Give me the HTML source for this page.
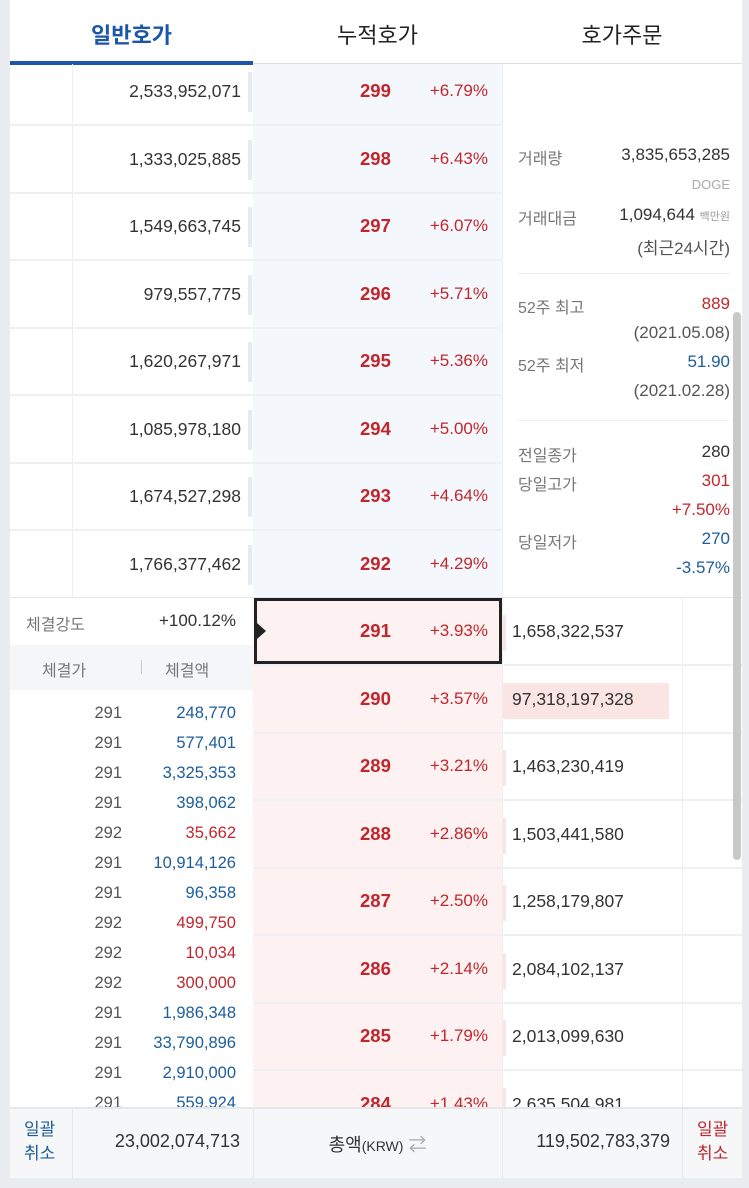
<!DOCTYPE html><html><head><meta charset="utf-8"><style>
*{margin:0;padding:0;box-sizing:border-box}
body{width:749px;height:1188px;background:#e9ecf0;font-family:"Liberation Sans","Noto Sans CJK KR",sans-serif;position:relative;overflow:hidden;color:#333}
.p{position:absolute;left:10px;top:0;width:732px;height:1178px;background:#fff;overflow:hidden}
.a{position:absolute;white-space:nowrap}
.r{text-align:right}
.red{color:#c0272d}.blue{color:#1d5d9b}.gray{color:#777}
.n{font-size:17px}
.b{font-weight:bold}
</style></head><body><div class="p">
<div class="a b" style="left:0;width:243px;top:18px;text-align:center;font-size:22px;color:#1c56a8">일반호가</div>
<div class="a" style="left:243px;width:249px;top:18px;text-align:center;font-size:22px;color:#222">누적호가</div>
<div class="a" style="left:492px;width:240px;top:18px;text-align:center;font-size:22px;color:#222">호가주문</div>
<div class="a" style="left:0;top:63px;width:732px;height:1px;background:#dde1e6"></div>
<div class="a" style="left:0;top:61px;width:243px;height:4px;background:#1c56a8"></div>
<div class="a" style="left:243px;top:64px;width:249px;height:534px;background:#f4f8fd"></div>
<div class="a" style="left:62px;top:64px;width:1px;height:534px;background:#eceef1"></div>
<div class="a" style="left:492px;top:64px;width:1px;height:534px;background:#eceef1"></div>
<div class="a" style="left:243px;top:598px;width:249px;height:510px;background:#fdf1f1"></div>
<div class="a" style="left:492px;top:598px;width:1px;height:510px;background:#eceef1"></div>
<div class="a" style="left:672px;top:598px;width:1px;height:510px;background:#eceef1"></div>
<div class="a" style="left:0;top:597px;width:732px;height:1px;background:#e3e6ea"></div>
<div id="rows"></div>
<div class="a" style="left:244px;top:598px;width:248px;height:66px;border:3px solid #222"></div>
<div class="a" style="left:247px;top:623px;width:0;height:0;border-top:8px solid transparent;border-bottom:8px solid transparent;border-left:9px solid #222"></div>
<div class="a gray" style="left:508px;top:145px;font-size:16px">거래량</div>
<div class="a r n" style="right:12px;top:145px">3,835,653,285</div>
<div class="a r" style="right:12px;top:177px;font-size:13px;color:#aaa">DOGE</div>
<div class="a gray" style="left:508px;top:205px;font-size:16px">거래대금</div>
<div class="a r n" style="right:12px;top:205px">1,094,644 <span style="font-size:11px;color:#999">백만원</span></div>
<div class="a r n" style="right:12px;top:234px;color:#555">(최근24시간)</div>
<div class="a" style="left:508px;top:273px;width:212px;height:1px;background:#eceef1"></div>
<div class="a gray" style="left:508px;top:294px;font-size:16px">52주 최고</div>
<div class="a r n red" style="right:12px;top:294px">889</div>
<div class="a r n" style="right:12px;top:323px;color:#555">(2021.05.08)</div>
<div class="a gray" style="left:508px;top:352px;font-size:16px">52주 최저</div>
<div class="a r n blue" style="right:12px;top:352px">51.90</div>
<div class="a r n" style="right:12px;top:381px;color:#555">(2021.02.28)</div>
<div class="a" style="left:508px;top:420px;width:212px;height:1px;background:#eceef1"></div>
<div class="a gray" style="left:508px;top:442px;font-size:16px">전일종가</div>
<div class="a r n" style="right:12px;top:442px">280</div>
<div class="a gray" style="left:508px;top:471px;font-size:16px">당일고가</div>
<div class="a r n red" style="right:12px;top:471px">301</div>
<div class="a r n red" style="right:12px;top:500px">+7.50%</div>
<div class="a gray" style="left:508px;top:529px;font-size:16px">당일저가</div>
<div class="a r n blue" style="right:12px;top:529px">270</div>
<div class="a r n blue" style="right:12px;top:558px">-3.57%</div>
<div class="a gray" style="left:16px;top:611px;font-size:16px">체결강도</div>
<div class="a r n" style="left:120px;width:106px;top:611px">+100.12%</div>
<div class="a" style="left:0;top:645px;width:243px;height:45px;background:#f5f6f8"></div>
<div class="a gray" style="left:32px;top:657px;font-size:16px">체결가</div>
<div class="a" style="left:131px;top:660px;width:1px;height:14px;background:#ccc"></div>
<div class="a gray" style="left:155px;top:657px;font-size:16px">체결액</div>
<div id="trades"></div>
<div class="a" style="left:723px;top:312px;width:8px;height:548px;background:#c8c8c8;border-radius:4px"></div>
<div class="a" style="left:0;top:1107px;width:732px;height:71px;background:#f6f7f9;border-top:2px solid #e3e6ea"></div>
<div class="a" style="left:62px;top:1108px;width:1px;height:70px;background:#e6e8eb"></div>
<div class="a" style="left:243px;top:1108px;width:1px;height:70px;background:#e6e8eb"></div>
<div class="a" style="left:492px;top:1108px;width:1px;height:70px;background:#e6e8eb"></div>
<div class="a" style="left:672px;top:1108px;width:1px;height:70px;background:#e6e8eb"></div>
<div class="a blue" style="left:14px;top:1118px;font-size:17px;line-height:24px">일괄<br>취소</div>
<div class="a r n" style="left:66px;width:164px;top:1131px;font-size:18px">23,002,074,713</div>
<div class="a" style="left:243px;width:249px;top:1131px;text-align:center;font-size:18px">총액<span style="font-size:14px">(KRW)</span> <span style="color:#aaa">⇄</span></div>
<div class="a r n" style="left:496px;width:164px;top:1131px;font-size:18px">119,502,783,379</div>
<div class="a red" style="left:687px;top:1118px;font-size:17px;line-height:24px">일괄<br>취소</div>
</div>
<script>
var asks=[["2,533,952,071",299,"+6.79%"],["1,333,025,885",298,"+6.43%"],["1,549,663,745",297,"+6.07%"],["979,557,775",296,"+5.71%"],["1,620,267,971",295,"+5.36%"],["1,085,978,180",294,"+5.00%"],["1,674,527,298",293,"+4.64%"],["1,766,377,462",292,"+4.29%"]];
var bids=[[291,"+3.93%","1,658,322,537"],[290,"+3.57%","97,318,197,328"],[289,"+3.21%","1,463,230,419"],[288,"+2.86%","1,503,441,580"],[287,"+2.50%","1,258,179,807"],[286,"+2.14%","2,084,102,137"],[285,"+1.79%","2,013,099,630"],[284,"+1.43%","2,635,504,981"]];
var h="";
asks.forEach(function(a,i){var c=92+67.5*i;
h+='<div class="a r n" style="left:66px;width:165px;top:'+(c-11)+'px;font-size:17.5px">'+a[0]+'</div>';
h+='<div class="a" style="left:238px;top:'+(c-20)+'px;width:4px;height:40px;background:#e6ebf1"></div>';
h+='<div class="a b red" style="left:350px;top:'+(c-12)+'px;font-size:18.5px">'+a[1]+'</div>';
h+='<div class="a r n red" style="left:400px;width:78px;top:'+(c-11)+'px">'+a[2]+'</div>';
if(i<7)h+='<div class="a" style="left:0;top:'+(c+32)+'px;width:492px;height:2px;background:#eef0f3"></div>';});
bids.forEach(function(b,i){var c=632+67.5*i;
h+='<div class="a b red" style="left:350px;top:'+(c-12)+'px;font-size:18.5px">'+b[0]+'</div>';
h+='<div class="a r n red" style="left:400px;width:78px;top:'+(c-11)+'px">'+b[1]+'</div>';
var w=(i==1)?166:3;
h+='<div class="a" style="left:493px;top:'+(c-17)+'px;width:'+w+'px;height:36px;background:#fbe4e4"></div>';
h+='<div class="a n" style="left:502px;top:'+(c-11)+'px;font-size:17.5px">'+b[2]+'</div>';
if(i<7)h+='<div class="a" style="left:243px;top:'+(c+32)+'px;width:489px;height:2px;background:#eef0f3"></div>';});
document.getElementById('rows').outerHTML=h;
var t=[[291,"248,770","blue"],[291,"577,401","blue"],[291,"3,325,353","blue"],[291,"398,062","blue"],[292,"35,662","red"],[291,"10,914,126","blue"],[291,"96,358","blue"],[292,"499,750","red"],[292,"10,034","red"],[292,"300,000","red"],[291,"1,986,348","blue"],[291,"33,790,896","blue"],[291,"2,910,000","blue"],[291,"559,924","blue"]];
var g="";t.forEach(function(x,i){var y=704+30*i;
g+='<div class="a r" style="left:60px;width:52px;top:'+y+'px;font-size:16.5px;color:#555">'+x[0]+'</div>';
g+='<div class="a r '+x[2]+'" style="left:110px;width:116px;top:'+y+'px;font-size:16.5px">'+x[1]+'</div>';});
document.getElementById('trades').outerHTML=g;
</script>
</body></html>
